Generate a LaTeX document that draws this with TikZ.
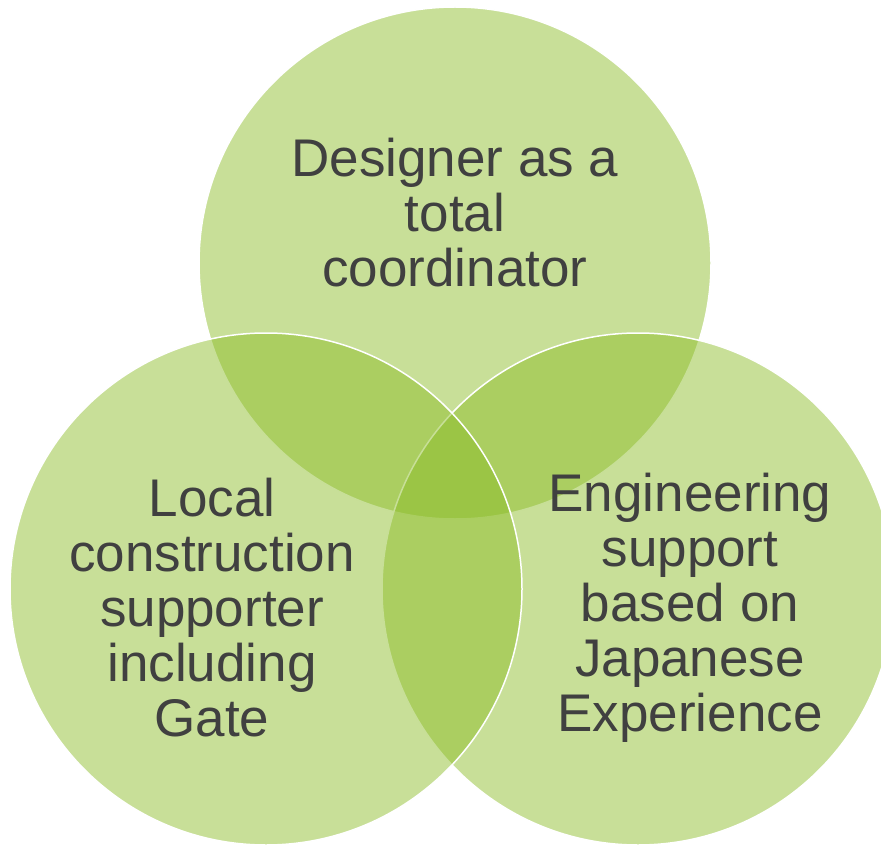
\documentclass[tikz,border=0pt]{standalone}
\usepackage{fontspec}
\setmainfont{Liberation Sans}
\definecolor{lime}{RGB}{138,187,36}
\definecolor{ink}{RGB}{64,64,64}
\tikzset{
  venn/.style={fill=lime, fill opacity=.47, draw=white, line width=1.5pt},
  label/.style={text=ink, align=center, inner sep=0pt, font=\fontsize{53}{55}\selectfont}
}
\begin{document}
\begin{tikzpicture}[x=1pt, y=-1pt]
\useasboundingbox (0,0) rectangle (881,845);
% the three sets
\draw[venn] (455,263) circle (256);
\draw[venn] (638,589) circle (256);
\draw[venn] (266,589) circle (256);

\node[label] (designer) at (455,213) {Designer as a\\total\\coordinator};
\node[label] (local) at (212,608) {Local\\construction\\supporter\\including\\Gate};
\node[label] (engineering) at (690,608) {Engineering\\support\\based on\\Japanese\\Experience};
\end{tikzpicture}
\end{document}
